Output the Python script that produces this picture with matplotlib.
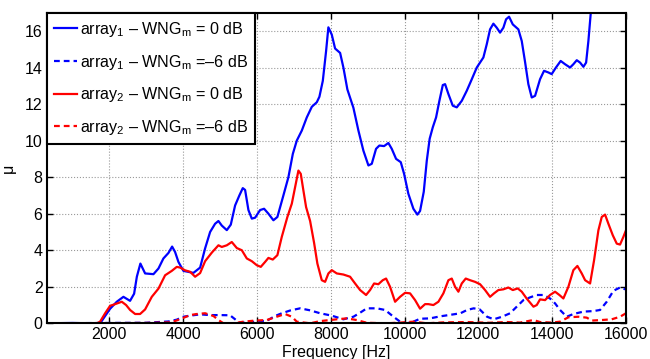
import matplotlib
matplotlib.use("Agg")
import matplotlib.pyplot as plt

plt.rcParams['font.family'] = ['Liberation Sans', 'DejaVu Sans']
plt.rcParams['mathtext.fontset'] = 'custom'
plt.rcParams['mathtext.rm'] = 'Liberation Sans'
plt.rcParams['mathtext.it'] = 'Liberation Sans:italic'

# array1, WNG_m = 0 dB
f_a1_0 = [300, 1000, 1500, 1750, 1884, 2020, 2200, 2380, 2560, 2670, 2744, 2840, 2968, 3194, 3330,
          3464, 3600, 3700, 3781, 3871, 4006, 4277, 4459, 4594, 4730, 4865, 4955, 5046, 5182, 5290,
          5407, 5523, 5615, 5678, 5768, 5860, 5949, 6085, 6193, 6310, 6445, 6553, 6716, 6852, 6971,
          7079, 7215, 7350, 7486, 7621, 7692, 7784, 7873, 7935, 8027, 8117, 8253, 8342, 8450, 8613,
          8749, 8884, 9020, 9111, 9227, 9317, 9445, 9561, 9653, 9770, 9897, 9987, 10103, 10239,
          10347, 10420, 10520, 10602, 10680, 10765, 10854, 10944, 11036, 11098, 11188, 11307, 11415,
          11551, 11686, 11822, 11957, 12136, 12227, 12317, 12407, 12498, 12588, 12678, 12751, 12832,
          12933, 13084, 13176, 13266, 13355, 13447, 13537, 13672, 13780, 13897, 13987, 14103, 14231,
          14350, 14485, 14575, 14667, 14757, 14847, 14920, 14982, 15047, 15150, 15400, 16000]
mu_a1_0 = [0, 0.02, 0, 0, 0.4, 0.8, 1.18, 1.45, 1.23, 1.62, 2.55, 3.27, 2.73, 2.69, 3.0,
           3.55, 3.85, 4.2, 3.9, 3.36, 2.87, 2.76, 3.05, 4.1, 5.0, 5.45, 5.6, 5.35, 5.1, 5.4,
           6.45, 7.0, 7.4, 7.3, 6.2, 5.73, 5.78, 6.2, 6.27, 6.0, 5.64, 5.82, 7.0, 8.0, 9.27,
           10.0, 10.55, 11.27, 11.85, 12.1, 12.4, 13.27, 14.9, 16.2, 15.8, 15.04, 14.8, 14.0, 12.8, 11.8,
           10.55, 9.45, 8.64, 8.73, 9.55, 9.73, 9.7, 9.87, 9.55, 9.0, 8.82, 8.18, 7.09, 6.27,
           5.95, 6.15, 7.2, 8.9, 10.1, 10.73, 11.27, 12.18, 13.04, 13.09, 12.55, 11.91, 11.82,
           12.18, 12.73, 13.36, 14.0, 14.55, 15.27, 16.09, 16.4, 16.18, 15.91, 16.18, 16.64, 16.78,
           16.36, 16.09, 15.45, 14.3, 13.09, 12.36, 12.45, 13.36, 13.82, 13.73, 13.64, 14.0, 14.36,
           14.18, 14.0, 14.18, 14.4, 14.27, 14.04, 14.27, 15.45, 17.0, 19.0, 21.0, 22.0]

# array1, WNG_m = -6 dB
f_a1_6 = [300, 2000, 3000, 3600, 3826, 4006, 4188, 4459, 4730, 5000, 5270, 5407, 5520, 5813, 6085,
          6266, 6490, 6672, 6897, 7168, 7440, 7711, 8027, 8342, 8613, 8795, 8976, 9247, 9473, 9700,
          9878, 10060, 10239, 10420, 10691, 10962, 11323, 11514, 11694, 11875, 12037, 12236, 12416,
          12642, 12860, 13040, 13221, 13402, 13583, 13764, 13943, 14079, 14214, 14395, 14575, 14847,
          15117, 15298, 15479, 15660, 15840, 16000]
mu_a1_6 = [0, 0.02, 0.03, 0.1, 0.2, 0.36, 0.42, 0.49, 0.45, 0.45, 0.44, 0.22, 0.04, 0.06, 0.12,
           0.14, 0.4, 0.55, 0.7, 0.82, 0.71, 0.55, 0.42, 0.22, 0.36, 0.58, 0.82, 0.82, 0.73, 0.36,
           0.09, 0.0, 0.09, 0.25, 0.27, 0.38, 0.49, 0.55, 0.73, 0.82, 0.76, 0.36, 0.22,
           0.36, 0.55, 0.91, 1.27, 1.42, 1.55, 1.55, 1.36, 1.09, 0.73, 0.36, 0.51, 0.64,
           0.67, 0.73, 1.18, 1.78, 1.96, 1.85]

# array2, WNG_m = 0 dB
f_a2_0 = [300, 1000, 1659, 1748, 1884, 2020, 2155, 2336, 2453, 2561, 2697, 2832, 2968, 3149, 3330,
          3510, 3691, 3827, 3917, 4052, 4188, 4323, 4459, 4594, 4776, 4955, 5046, 5182, 5317, 5453,
          5589, 5724, 5860, 5995, 6103, 6220, 6310, 6428, 6553, 6672, 6824, 6944, 7033, 7123, 7187,
          7258, 7331, 7440, 7548, 7637, 7756, 7846, 7936, 8027, 8163, 8342, 8523, 8659, 8795, 8957,
          9065, 9174, 9290, 9409, 9499, 9607, 9743, 9878, 10014, 10149, 10285, 10420, 10556, 10646,
          10781, 10917, 11052, 11188, 11279, 11369, 11459, 11550, 11658, 11775, 11910, 12046, 12182,
          12317, 12425, 12542, 12678, 12813, 12933, 13068, 13176, 13312, 13493, 13583, 13672, 13808,
          13943, 14079, 14196, 14304, 14440, 14575, 14684, 14802, 14893, 15028, 15136, 15253, 15344,
          15434, 15524, 15643, 15751, 15840, 15930, 16000]
mu_a2_0 = [0, 0, 0, 0.09, 0.55, 0.96, 1.05, 1.18, 1.0, 0.73, 0.51, 0.51, 0.76, 1.45, 1.9,
           2.63, 2.87, 3.09, 3.05, 2.9, 2.82, 2.55, 2.75, 3.4, 3.87, 4.27, 4.18, 4.27, 4.45, 4.12,
           4.0, 3.55, 3.4, 3.18, 3.09, 3.36, 3.58, 3.49, 3.73, 4.73, 5.82, 6.55, 7.45, 8.36, 8.18,
           7.27, 6.36, 5.6, 4.4, 3.27, 2.36, 2.27, 2.73, 2.91, 2.73, 2.67, 2.55, 2.18, 1.82, 1.55,
           1.82, 2.18, 2.14, 2.36, 2.45, 2.0, 1.18, 1.45, 1.67, 1.64, 1.27, 0.8, 1.05, 1.05,
           1.0, 1.18, 1.64, 2.36, 2.45, 2.0, 1.73, 2.18, 2.45, 2.36, 2.27, 2.14, 1.82,
           1.45, 1.64, 1.82, 1.86, 1.96, 1.82, 1.91, 1.73, 1.35, 0.91, 1.0, 1.31, 1.27,
           1.55, 1.73, 1.55, 1.36, 2.0, 2.91, 3.14, 2.73, 2.36, 2.18, 3.45, 5.09, 5.82,
           5.95, 5.45, 4.82, 4.36, 4.31, 4.73, 5.09]

# array2, WNG_m = -6 dB
f_a2_6 = [300, 2000, 3000, 3600, 3735, 4006, 4188, 4368, 4594, 4820, 4955, 5091, 5362, 5633, 5949,
          6266, 6536, 6762, 6944, 7079, 7440, 7711, 8163, 8434, 8704, 8976, 9518, 9878, 10239, 10601,
          11052, 11694, 12300, 12769, 13130, 13493, 13672, 14000, 14214, 14440, 14712, 14938, 15073,
          15344, 15615, 15840, 16000]
mu_a2_6 = [0, 0.01, 0.02, 0.05, 0.09, 0.3, 0.45, 0.51, 0.55, 0.4, 0.18, 0.0, 0.0, 0.09, 0.15,
           0.18, 0.36, 0.51, 0.36, 0.09, 0.0, 0.12, 0.22, 0.27, 0.18, 0.03, 0.0, 0.04, 0.09, 0.0,
           0.05, 0.07, 0.03, 0.07, 0.04, 0.18, 0.07, 0.04, 0.09, 0.33, 0.36, 0.31, 0.15,
           0.18, 0.22, 0.36, 0.55]

labels = [r'array$_1$ – WNG$_\mathrm{m}$ = 0 dB',
          r'array$_1$ – WNG$_\mathrm{m}$ =–6 dB',
          r'array$_2$ – WNG$_\mathrm{m}$ = 0 dB',
          r'array$_2$ – WNG$_\mathrm{m}$ =–6 dB']

xticks = [2000, 4000, 6000, 8000, 10000, 12000, 14000, 16000]
yticks = [0, 2, 4, 6, 8, 10, 12, 14, 16]

fig = plt.figure(figsize=(6.5, 3.59), dpi=100)
ax = fig.add_axes([0.0718, 0.0994, 0.963 - 0.0718, 0.9646 - 0.0994])

dash = (0, (2.6, 1.8))
ax.plot(f_a1_0, mu_a1_0, color='#0000ff', lw=1.6, label=labels[0])
ax.plot(f_a1_6, mu_a1_6, color='#0000ff', lw=1.6, ls=dash, label=labels[1])
ax.plot(f_a2_0, mu_a2_0, color='#ff0000', lw=1.6, label=labels[2])
ax.plot(f_a2_6, mu_a2_6, color='#ff0000', lw=1.6, ls=dash, label=labels[3])

ax.set_xlim(300, 16000)
ax.set_ylim(0, 17)
ax.set_xticks(xticks)
ax.set_yticks(yticks)
ax.tick_params(direction='in', length=4, width=1, top=True, right=True, labelsize=11.5, pad=3)
ax.grid(True, ls=':', color='#999999', lw=0.8)
for s in ax.spines.values():
    s.set_linewidth(1.5)
    s.set_color('black')

ax.set_xlabel('Frequency [Hz]', fontsize=11.5, labelpad=2)
ax.set_ylabel('μ', fontsize=11.5, labelpad=6)

leg = ax.legend(loc='upper left', bbox_to_anchor=(0, 1), borderaxespad=0, fontsize=11.6,
                fancybox=False, framealpha=1, edgecolor='black', handlelength=1.45,
                handletextpad=0.15, labelspacing=0.85, borderpad=0.45)
leg.get_frame().set_linewidth(1.5)

fig.savefig('out.png', dpi=100)
